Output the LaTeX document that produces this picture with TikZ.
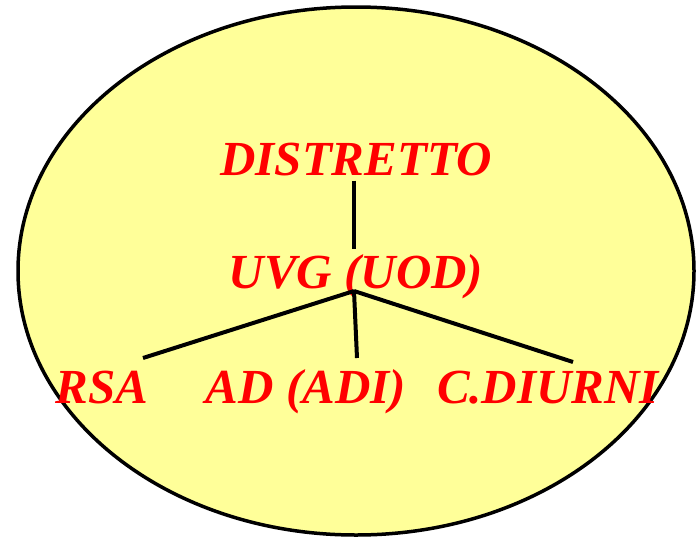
\documentclass[tikz,border=0pt]{standalone}
\usepackage{fontspec}
\setmainfont{Liberation Serif}
\definecolor{paleyellow}{RGB}{255,255,153}
\begin{document}
\begin{tikzpicture}[x=1pt,y=-1pt,
	box/.style={text=red,font=\fontsize{49}{49}\selectfont\bfseries\itshape,anchor=base,inner sep=5pt},
	link/.style={line width=4pt}]
		\useasboundingbox (0,0) rectangle (696,536);
		\filldraw[fill=paleyellow,line width=3.5pt] (356,271) ellipse [x radius=338, y radius=264];
		\node[box] (D) at (356,175) {DISTRETTO};
		\node[box] (U) at (356,288) {UVG (UOD)};
		\node[box] (R) at (102,403) {RSA};
		\node[box] (A) at (306,403) {AD (ADI)};
		\node[box] (C) at (548,403) {C.DIURNI};
		\coordinate (hub) at (354,291);
		\coordinate (Rt) at (143,358);
		\coordinate (At) at (357,358);
		\coordinate (Ct) at (573,362);
		\draw[link] (D.south -| hub) -- (U.north -| hub);
		\draw[link] (hub) -- (Rt);
		\draw[link] (hub) -- (At);
		\draw[link] (hub) -- (Ct);
		\end{tikzpicture}
\end{document}
